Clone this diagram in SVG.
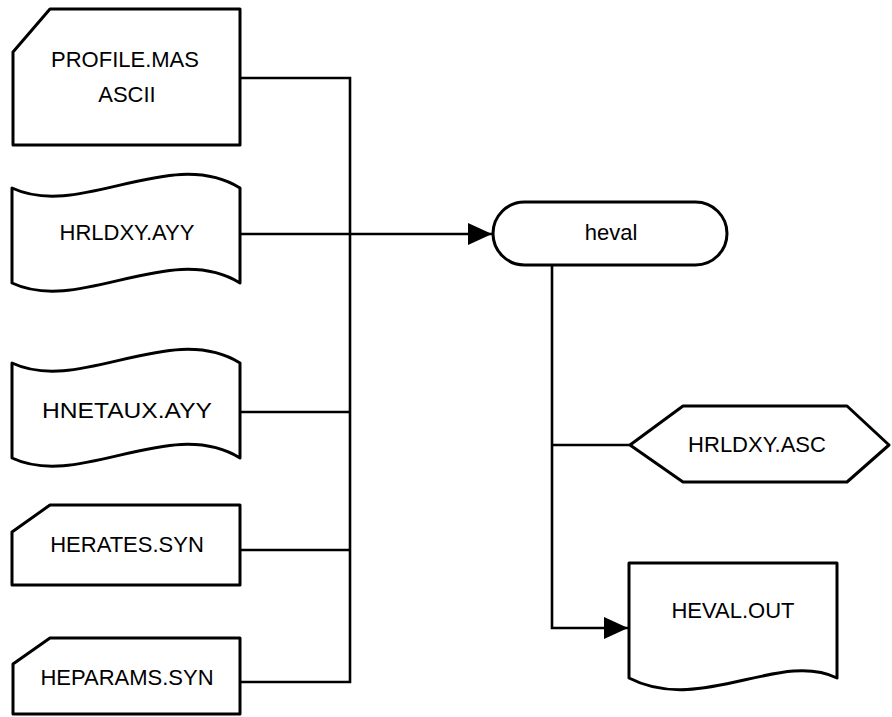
<svg xmlns="http://www.w3.org/2000/svg" width="892" height="717" viewBox="0 0 892 717">
<style>
.s{fill:#fff;stroke:#000;stroke-width:3;stroke-linejoin:round}
.c{fill:none;stroke:#000;stroke-width:2.6}
text{font-family:"Liberation Sans",Arial,sans-serif;font-size:22px;fill:#000;text-anchor:middle}
</style>
<defs>
<marker id="ah" markerWidth="24" markerHeight="22" refX="24" refY="11" orient="auto" markerUnits="userSpaceOnUse">
<path d="M0,0 L24,11 L0,22 Z" fill="#000"/>
</marker>
</defs>
<rect width="892" height="717" fill="#fff"/>
<g id="connectors">
<path class="c" d="M240,78 H350 V682 H240"/>
<path class="c" d="M240,550 H350"/>
<path class="c" d="M240,412 H350"/>
<path class="c" d="M240,234 H492" marker-end="url(#ah)"/>
<path class="c" d="M552,265 V628 H628" marker-end="url(#ah)"/>
<path class="c" d="M552,445 H630"/>
</g>
<g id="profile">
<path class="s" d="M50,9 H240 V145 H13 V52 Z"/>
<text x="125" y="67">PROFILE.MAS</text>
<text x="127" y="102">ASCII</text>
</g>
<g id="hrldxy_ayy">
<path class="s" d="M12,188 C80,220 170,145 240,188 V283 C170,240 80,315 12,283 Z"/>
<text x="127" y="240">HRLDXY.AYY</text>
</g>
<g id="hnetaux">
<path class="s" d="M12,363 C80,395 170,320 240,363 V458 C170,415 80,490 12,458 Z"/>
<text x="127" y="418" textLength="170" lengthAdjust="spacingAndGlyphs">HNETAUX.AYY</text>
</g>
<g id="herates">
<path class="s" d="M50,505 H240 V585 H12 V532 Z"/>
<text x="127" y="552">HERATES.SYN</text>
</g>
<g id="heparams">
<path class="s" d="M50,638 H240 V714 H13 V664 Z"/>
<text x="127" y="685">HEPARAMS.SYN</text>
</g>
<g id="heval">
<rect class="s" x="493" y="202" width="234" height="63" rx="31.5" ry="31.5"/>
<text x="611" y="240">heval</text>
</g>
<g id="hrldxy_asc">
<path class="s" d="M630,445 L683,406 H847 L889,445 L847,482 H683 Z"/>
<text x="757" y="452">HRLDXY.ASC</text>
</g>
<g id="heval_out">
<path class="s" d="M629,563 H837 V678 C780,650 700,715 629,678 Z"/>
<text x="733" y="618">HEVAL.OUT</text>
</g>
</svg>
